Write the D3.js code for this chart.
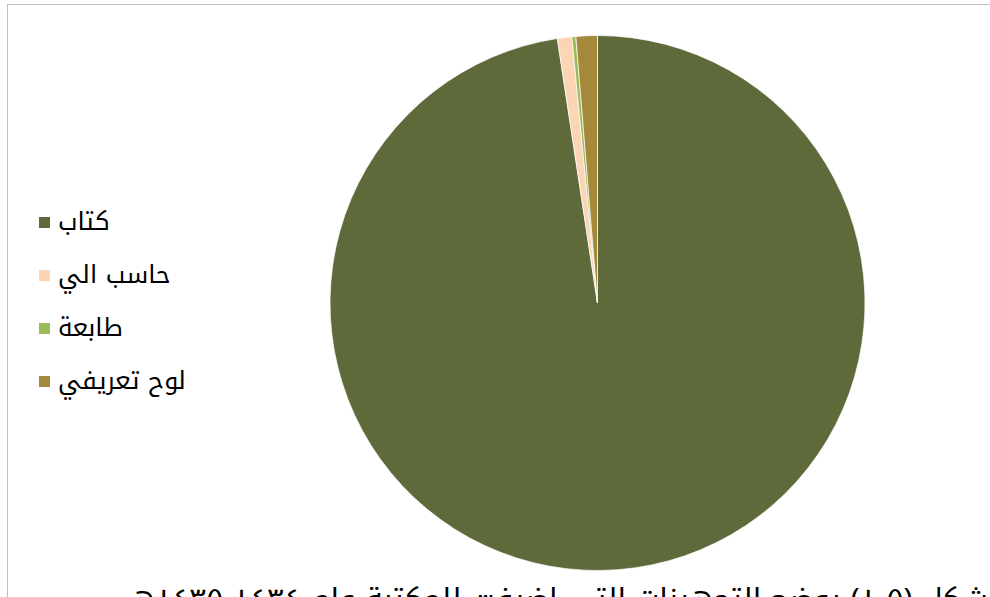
<!DOCTYPE html>
<html><head><meta charset="utf-8">
<script src="https://cdn.jsdelivr.net/npm/d3@7"></script>
<style>
html,body{margin:0;padding:0;background:#fff;overflow:hidden;}
svg{display:block;}
text{font-family:"Noto Kufi Arabic","Noto Sans Arabic","DejaVu Sans",sans-serif;}
</style></head>
<body>
<svg id="chart" width="990" height="597"></svg>
<script>
const categories = ["كتاب", "حاسب الي", "طابعة", "لوح تعريفي"];
const values = [97.6, 0.87, 0.24, 1.29];
const colors = ["#5f6a3b", "#fcd5b5", "#9bbb59", "#a5893a"];
const caption = "شكل (٥-١) يوضح التجهيزات التي اضيفت للمكتبة عام ١٤٣٤-١٤٣٥هـ";

const svg = d3.select("#chart");
// frame
svg.append("rect").attr("x",7.5).attr("y",4.5).attr("width",1000).attr("height",1000)
  .attr("fill","none").attr("stroke","#bfbfbf").attr("stroke-width",1);

const cx = 597.5, cy = 303, r = 267.5;
const data = categories.map((c,i)=>({cat:c, val:values[i], col:colors[i]}));
const pie = d3.pie().value(d=>d.val).sort(null);
const arc = d3.arc().innerRadius(0).outerRadius(r);
const g = svg.append("g").attr("transform",`translate(${cx},${cy})`);
g.selectAll("path").data(pie(data)).join("path")
  .attr("d",arc).attr("fill",d=>d.data.col)
  .attr("stroke","#fff").attr("stroke-width",0.7);

// legend
const ly = d3.scalePoint().domain(categories).range([222,381]);
const lg = svg.append("g");
categories.forEach((c,i)=>{
  lg.append("rect").attr("x",39).attr("y",ly(c)-5).attr("width",11).attr("height",11).attr("fill",colors[i]);
  lg.append("text").attr("x",58).attr("y",ly(c)+8).attr("font-size",25).attr("fill","#000")
    .attr("direction","ltr").text(c);
});

// caption (clipped at the bottom)
svg.append("text").attr("x",988).attr("y",608).attr("font-size",27)
  .attr("direction","rtl").attr("text-anchor","start").attr("fill","#000")
  .attr("textLength",861).attr("lengthAdjust","spacingAndGlyphs")
  .text(caption);
</script>
</body></html>
